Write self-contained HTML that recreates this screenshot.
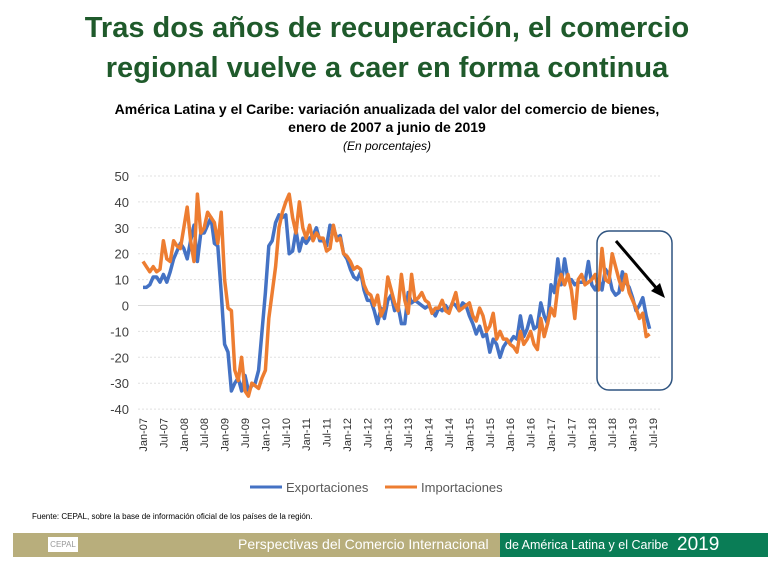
<!DOCTYPE html>
<html><head><meta charset="utf-8"><style>
body{margin:0;width:774px;height:566px;background:#fff;font-family:"Liberation Sans",sans-serif;overflow:hidden;position:relative}
.t{position:absolute;left:0;width:774px;text-align:center}
</style></head><body>
<div class="t" style="top:8px;font-size:29px;font-weight:bold;color:#1f5a2b;line-height:40px">Tras dos años de recuperación, el comercio<br>regional vuelve a caer en forma continua</div>
<div class="t" style="top:100px;font-size:14px;font-weight:bold;line-height:18px">América Latina y el Caribe: variación anualizada del valor del comercio de bienes,<br>enero de 2007 a junio de 2019</div>
<div class="t" style="top:139px;font-size:12px;font-style:italic">(En porcentajes)</div>
<svg id="c" width="774" height="566" style="position:absolute;left:0;top:0"></svg>
<div style="position:absolute;left:32px;top:512px;font-size:8px">Fuente: CEPAL, sobre la base de información oficial de los países de la región.</div>
<div style="position:absolute;left:13px;top:533px;width:487px;height:24px;background:#b8ae7c"></div>
<div style="position:absolute;left:500px;top:533px;width:268px;height:24px;background:#0a7d56"></div>
<div style="position:absolute;left:48px;top:537px;width:30px;height:15px;background:#fff;font-size:8px;color:#999;text-align:center;line-height:15px">CEPAL</div>
<div style="position:absolute;left:238px;top:536px;font-size:14px;color:#fff">Perspectivas del Comercio Internacional</div>
<div style="position:absolute;left:505px;top:538px;font-size:12.5px;color:#fff">de América Latina y el Caribe</div>
<div style="position:absolute;left:677px;top:534px;font-size:19px;color:#fff">2019</div>
<script>
const yTicks=[50,40,30,20,10,0,-10,-20,-30,-40];
const xLabels=[];
const yrs=['07','08','09','10','11','12','13','14','15','16','17','18','19'];
yrs.forEach(y=>{xLabels.push('Jan-'+y);xLabels.push('Jul-'+y);});
const exportsData=[7,7,8,11,11,9,12,9,13,18,21,24,
22,18,25,31,17,28,28,31,34,24,23,5,
-15,-18,-33,-30,-28,-33,-27,-33,-31,-30,-25,-10,
5,23,25,32,35,34,35,20,21,29,21,26,
24,26,27,30,25,25,23,31,30,26,27,20,
18,14,11,10,13,6,2,2,-2,-7,-1,-5,
2,4,-2,0,-7,-7,5,1,2,1,0,-1,
0,-2,-4,-1,-2,0,-2,1,0,-2,1,0,
-4,-7,-11,-8,-12,-11,-18,-13,-15,-20,-16,-14,
-14,-12,-13,-4,-12,-9,-4,-9,-8,1,-4,-7,
8,5,18,8,18,10,10,8,9,9,9,17,
8,6,10,6,14,12,6,4,5,13,9,7,
3,-2,0,3,-4,-9];
const importsData=[17,15,13,15,13,14,25,18,17,25,23,22,
30,38,25,17,43,28,30,36,34,32,24,36,
10,-1,-2,-25,-29,-20,-33,-35,-30,-31,-32,-28,
-25,-5,5,15,30,36,40,43,34,28,40,30,
26,31,25,28,26,26,21,22,31,25,26,20,
19,17,14,15,14,8,5,4,0,4,-4,-1,
11,6,1,-2,12,2,-3,12,2,3,5,2,
1,-3,-1,-1,2,-2,-3,1,5,-2,-1,0,
1,-4,-6,-1,-4,-10,-8,-3,-13,-10,-13,-13,
-15,-16,-18,-10,-15,-13,-10,-15,-17,-5,-12,-7,
-1,-4,7,12,8,12,6,-5,10,12,8,9,
10,12,6,22,10,9,20,15,10,6,12,5,
2,-1,-5,-3,-12,-11];
const svg=document.getElementById('c');const NS='http://www.w3.org/2000/svg';
const Y=v=>305.5-v*2.59;const X=i=>143+i*3.4;
function mk(t,a,txt){const e=document.createElementNS(NS,t);for(const k in a)e.setAttribute(k,a[k]);if(txt!=null)e.textContent=txt;svg.appendChild(e);return e;}
yTicks.forEach(v=>{
const g=mk('line',{x1:138,x2:660,y1:Y(v),y2:Y(v),stroke:v===0?'#d9d9d9':'#e0e0e0','stroke-dasharray':v===0?'':'2,2','stroke-width':1});


const t=mk('text',{x:129,y:Y(v)+5,'text-anchor':'end','font-size':13,fill:'#404040'},v);


});
xLabels.forEach((l,i)=>{
const x=X(i*6);
const t=mk('text',{transform:`translate(${x+4},${418}) rotate(-90)`,'text-anchor':'end','font-size':11,fill:'#303030'},l);


});
function line(d,c,n){const p=mk('polyline',{points:d.map((v,i)=>X(i)+','+Y(v)).join(' '),fill:'none',stroke:c,'stroke-width':3.5,'stroke-linejoin':'round'});

}
line(exportsData,'#4472c4','exports-line');
line(importsData,'#ed7d31','imports-line');
const b=mk('rect',{x:597,y:231,width:75,height:159,rx:12,fill:'none',stroke:'#2f5480','stroke-width':1.5});


const a=mk('line',{x1:616,y1:241,x2:658,y2:290,stroke:'#000','stroke-width':3});


const ah=mk('polygon',{points:'665,298 651,291 660,283',fill:'#000'});


[['#4472c4','Exportaciones',250],['#ed7d31','Importaciones',385]].forEach(([c,t,x])=>{
const l=mk('line',{x1:x,x2:x+32,y1:487,y2:487,stroke:c,'stroke-width':3});


const tx=mk('text',{x:x+36,y:492,'font-size':13,fill:'#595959'},t);


});
</script>
</body></html>
